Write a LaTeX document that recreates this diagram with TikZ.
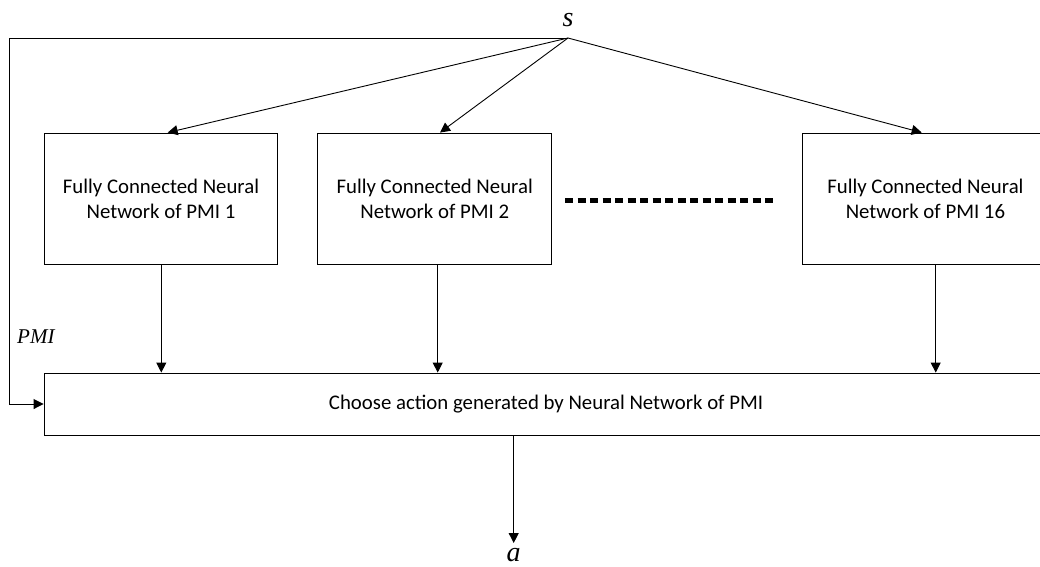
\documentclass[tikz,border=0pt]{standalone}
\usepackage{fontspec}
\setmainfont{Carlito}
\newfontfamily\varfont{Liberation Serif}
\usetikzlibrary{arrows.meta,calc}
\begin{document}
\begin{tikzpicture}[x=1pt,y=-1pt,
  every node/.style={inner sep=0pt},
  netbox/.style={draw, line width=0.9pt, minimum height=131pt, align=center,
    font=\fontsize{20.8}{25}\selectfont},
  arr/.style={line width=0.9pt, -{Triangle[length=10pt,width=10pt]}},
  wire/.style={line width=0.9pt},
  mathlbl/.style={font=\fontsize{28}{28}\selectfont\varfont\itshape},
  smallmath/.style={font=\fontsize{21}{21}\selectfont\varfont\itshape}]
\clip (0,0) rectangle (1040,566);

% state input and branch point
\node[mathlbl, anchor=base] (s) at (568,26) {s};
\coordinate (top) at (568,38);

% one network per PMI
\node[netbox, minimum width=233.4pt] (b1) at (161,198.5)
  {Fully Connected Neural\\Network of PMI 1};
\node[netbox, minimum width=234pt] (b2) at (434.7,198.5)
  {Fully Connected Neural\\Network of PMI 2};
\node[netbox, minimum width=245.4pt] (b3) at (925.4,198.5)
  {Fully Connected Neural\\Network of PMI 16};

% ellipsis between the networks
\coordinate (d1) at (565,200);
\coordinate (d2) at (773,200);
\draw[line width=5pt, dash pattern=on 8pt off 4.5pt] (d1) -- (d2);

% selector
\node[draw, line width=0.9pt, minimum width=1004pt, minimum height=62pt,
  font=\fontsize{20.8}{25}\selectfont] (big) at (546,404)
  {Choose action generated by Neural Network of PMI};

% state to every network
\draw[arr] (top) -- ($(b1.north)+(6.7,0)$);
\draw[arr] (top) -- ($(b2.north)+(5.3,0)$);
\draw[arr] (top) -- ($(b3.north)+(-3.7,0)$);

% PMI feed-through to the selector
\coordinate (corner) at (9.3,38);
\draw[wire] (top) -- (corner) -- (corner |- big.west);
\draw[arr] (corner |- big.west) -- (big.west);
\node[smallmath, anchor=base west] (pmi) at (17,343) {PMI};

% network outputs to the selector
\draw[arr] ($(b1.south)+(0.3,0)$) coordinate (o1) -- (o1 |- big.north);
\draw[arr] ($(b2.south)+(3,0)$) coordinate (o2) -- (o2 |- big.north);
\draw[arr] ($(b3.south)+(10.3,0)$) coordinate (o3) -- (o3 |- big.north);

% chosen action
\coordinate (aend) at (513.7,543);
\draw[arr] (big.south -| aend) -- (aend);
\node[mathlbl, anchor=base] (a) at (513.7,561) {a};
\end{tikzpicture}
\end{document}
